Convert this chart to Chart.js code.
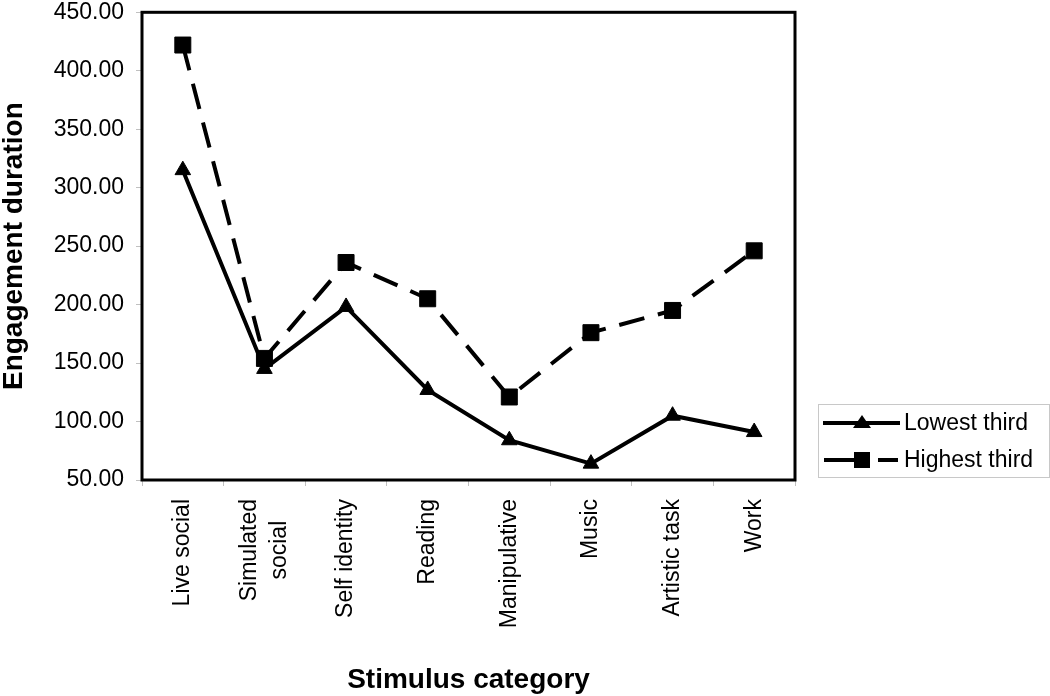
<!DOCTYPE html>
<html>
<head>
<meta charset="utf-8">
<script src="https://cdn.jsdelivr.net/npm/chart.js@4/dist/chart.umd.min.js"></script>
<style>
  html, body { margin: 0; padding: 0; background: #fff; }
  canvas { display: block; }
</style>
</head>
<body>
<canvas id="chart" width="1050" height="696"></canvas>
<script>
// categories and series
const categories = ['Live social', ['Simulated', 'social'], 'Self identity', 'Reading',
  'Manipulative', 'Music', 'Artistic task', 'Work'];
const lowestThird = [315, 145, 198, 127, 84, 64, 105, 91];
const highestThird = [422, 154, 236, 205, 121, 176, 195, 246];
const seriesNames = ['Lowest third', 'Highest third'];

const FONT = "'Liberation Sans', Arial, Helvetica, sans-serif";
const TICK_SIZE = 23;
const X_TICK_LEN = 6;
const X_TICK_PAD = 13;

// box round the plot area
const framePlugin = {
  id: 'frame',
  afterDatasetsDraw(chart) {
    const a = chart.chartArea;
    const ctx = chart.ctx;
    ctx.save();
    ctx.strokeStyle = '#000';
    ctx.lineWidth = 3;
    ctx.setLineDash([]);
    ctx.strokeRect(a.left, a.top, a.right - a.left, a.bottom - a.top);
    ctx.restore();
  }
};

// chart.js end-aligns wrapped rotated labels; the original centres them
const wrappedLabels = {
  id: 'wrappedLabels',
  afterDraw(chart) {
    const scale = chart.scales.x;
    const ctx = chart.ctx;
    ctx.save();
    ctx.font = TICK_SIZE + 'px ' + FONT;
    ctx.fillStyle = '#000';
    ctx.textAlign = 'center';
    ctx.textBaseline = 'middle';
    categories.forEach((lab, i) => {
      if (!Array.isArray(lab)) return;
      const px = scale.getPixelForTick(i);
      const longest = Math.max(...lab.map(s => ctx.measureText(s).width));
      const cy = scale.top + X_TICK_LEN + X_TICK_PAD + longest / 2;
      const step = 30;
      lab.forEach((line, j) => {
        ctx.save();
        ctx.translate(px + (j - (lab.length - 1) / 2) * step, cy);
        ctx.rotate(-Math.PI / 2);
        ctx.fillText(line, 0, 0);
        ctx.restore();
      });
    });
    ctx.restore();
  }
};

// legend box to the right, line + marker samples like the original
const sideLegend = {
  id: 'sideLegend',
  afterDraw(chart) {
    const a = chart.chartArea;
    const ctx = chart.ctx;
    const x0 = a.right + 23, y0 = 404, w = 231, h = 73;
    ctx.save();
    ctx.strokeStyle = '#c8c8c8';
    ctx.lineWidth = 1;
    ctx.strokeRect(x0 + 0.5, y0 + 0.5, w, h);

    ctx.fillStyle = '#000';
    ctx.strokeStyle = '#000';
    ctx.font = TICK_SIZE + 'px ' + FONT;
    ctx.textBaseline = 'middle';

    // row 1: solid line + triangle
    let y = y0 + 19;
    ctx.lineWidth = 4;
    ctx.beginPath();
    ctx.moveTo(x0 + 5, y);
    ctx.lineTo(x0 + 82, y);
    ctx.stroke();
    ctx.beginPath();
    ctx.moveTo(x0 + 44, y - 8);
    ctx.lineTo(x0 + 53, y + 5);
    ctx.lineTo(x0 + 35, y + 5);
    ctx.closePath();
    ctx.fill();
    ctx.fillText(seriesNames[0], x0 + 86, y + 1);

    // row 2: dashed line + square
    y = y0 + 56;
    ctx.beginPath();
    ctx.moveTo(x0 + 6, y);
    ctx.lineTo(x0 + 52, y);
    ctx.moveTo(x0 + 60, y);
    ctx.lineTo(x0 + 80, y);
    ctx.stroke();
    ctx.fillRect(x0 + 36, y - 8, 16, 16);
    ctx.fillText(seriesNames[1], x0 + 86, y + 1);
    ctx.restore();
  }
};

new Chart(document.getElementById('chart'), {
  type: 'line',
  data: {
    labels: categories,
    datasets: [
      {
        label: seriesNames[0],
        data: lowestThird,
        borderColor: '#000',
        backgroundColor: '#000',
        borderWidth: 4,
        pointStyle: 'triangle',
        pointRadius: 9,
        pointBorderWidth: 1,
        tension: 0
      },
      {
        label: seriesNames[1],
        data: highestThird,
        borderColor: '#000',
        backgroundColor: '#000',
        borderWidth: 4,
        borderDash: [26, 14],
        pointStyle: 'rect',
        pointRadius: 11.3,
        pointBorderWidth: 1,
        tension: 0
      }
    ]
  },
  options: {
    responsive: false,
    animation: false,
    devicePixelRatio: 1,
    layout: { padding: { top: 9, right: 255, bottom: 0, left: 0 } },
    plugins: {
      legend: { display: false },
      tooltip: { enabled: false }
    },
    scales: {
      x: {
        offset: true,
        grid: {
          offset: true,
          drawOnChartArea: false,
          drawTicks: true,
          tickLength: X_TICK_LEN,
          color: '#c0c0c0'
        },
        border: { display: false },
        ticks: {
          // wrapped labels are drawn by the wrappedLabels plugin
          color: (c) => Array.isArray(categories[c.index]) ? 'rgba(0,0,0,0)' : '#000',
          font: { family: FONT, size: TICK_SIZE },
          minRotation: 90,
          maxRotation: 90,
          autoSkip: false,
          padding: X_TICK_PAD
        },
        title: {
          display: true,
          text: 'Stimulus category',
          color: '#000',
          font: { family: FONT, size: 28, weight: 'bold', lineHeight: 1.1 },
          padding: { top: 0, bottom: 0 }
        },
        afterFit(scale) {
          scale.height = 216;
        }
      },
      y: {
        min: 50,
        max: 450,
        grid: {
          drawOnChartArea: false,
          drawTicks: true,
          tickLength: 6,
          color: '#c0c0c0'
        },
        border: { display: false },
        ticks: {
          stepSize: 50,
          color: '#000',
          font: { family: FONT, size: TICK_SIZE },
          padding: 12,
          callback: (v) => v.toFixed(2)
        },
        title: {
          display: true,
          text: 'Engagement duration',
          color: '#000',
          font: { family: FONT, size: 28, weight: 'bold', lineHeight: 1 },
          padding: { top: 0, bottom: 0 }
        },
        afterFit(scale) {
          scale.width = 142;
          scale.paddingTop = 0;
          scale.paddingBottom = 0;
        }
      }
    }
  },
  plugins: [framePlugin, wrappedLabels, sideLegend]
});
</script>
</body>
</html>
